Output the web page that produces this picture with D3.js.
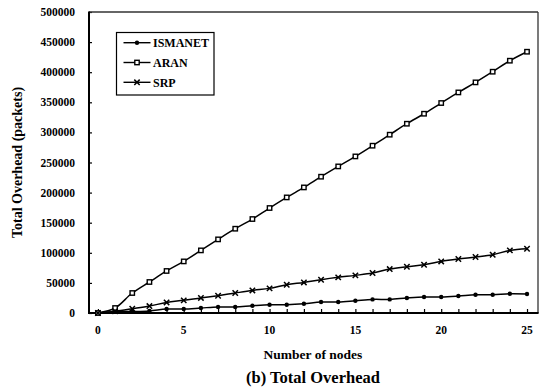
<!DOCTYPE html>
<html>
<head>
<meta charset="utf-8">
<script src="https://cdn.jsdelivr.net/npm/d3@7"></script>
<style>
  body { margin: 0; background: #fff; }
  text { font-family: "Liberation Serif", "Times New Roman", serif; font-weight: bold; }
</style>
</head>
<body>
<div id="chart"></div>
<script>
const nodes = d3.range(0, 26)
const ismanet = [0, 2000, 2500, 3500, 6600, 6600, 8300, 10000, 10000, 12100, 13800, 13800, 15400, 18300,
  18300, 20400, 22600, 22600, 24900, 26600, 26600, 28200, 30400, 30400, 32000, 31600]
const aran = [0, 8300, 33200, 51500, 69800, 85700, 104000, 122300, 140000, 156100, 174400, 192000, 208600,
  226400, 243500, 260100, 277900, 296200, 314400, 331000, 348800, 366400, 383100, 400800, 419100, 434000]
const srp = [0, 3000, 7100, 11500, 17600, 21000, 25000, 28700, 33200, 37500, 40900, 47000, 50800, 55300,
  59200, 62500, 66400, 73000, 76900, 80200, 85700, 89700, 93000, 96800, 104000, 106800]
const yTicks = d3.range(0, 500001, 50000)
const xLabels = [0, 5, 10, 15, 20, 25]
const seriesNames = ["ISMANET", "ARAN", "SRP"]

const width = 541, height = 392
const plotLeft = 89, plotRight = 538, plotTop = 12, plotBottom = 313

const svg = d3.select("#chart").append("svg")
  .attr("width", width)
  .attr("height", height)

const x = d3.scaleLinear().domain([-0.52, 25.64]).range([plotLeft, plotRight])
const y = d3.scaleLinear().domain([0, 500000]).range([plotBottom, plotTop])

// ticks inside the frame
svg.append("g")
  .attr("transform", "translate(0," + plotBottom + ")")
  .call(d3.axisTop(x).tickValues(nodes).tickSize(4).tickFormat(""))
  .call(g => g.select(".domain").remove())
  .selectAll("line").attr("stroke-width", 1.2)

svg.append("g")
  .attr("transform", "translate(" + plotLeft + ",0)")
  .call(d3.axisRight(y).tickValues(yTicks).tickSize(3).tickFormat(""))
  .call(g => g.select(".domain").remove())
  .selectAll("line").attr("stroke-width", 1.2)

// tick labels
svg.append("g").selectAll("text")
  .data(yTicks)
  .enter().append("text")
  .attr("x", 75)
  .attr("y", d => y(d))
  .attr("dy", "0.35em")
  .attr("text-anchor", "end")
  .attr("font-size", 11.5)
  .text(d => d)

svg.append("g").selectAll("text")
  .data(xLabels)
  .enter().append("text")
  .attr("x", d => x(d))
  .attr("y", 334)
  .attr("text-anchor", "middle")
  .attr("font-size", 11.5)
  .text(d => d)

// frame
svg.append("line").attr("x1", plotLeft).attr("x2", plotRight).attr("y1", plotTop).attr("y2", plotTop)
  .attr("stroke", "#333").attr("stroke-width", 1.3)
svg.append("line").attr("x1", plotRight).attr("x2", plotRight).attr("y1", plotTop).attr("y2", plotBottom)
  .attr("stroke", "#333").attr("stroke-width", 1.3)
svg.append("line").attr("x1", plotLeft).attr("x2", plotLeft).attr("y1", plotTop - 0.6).attr("y2", plotBottom + 1)
  .attr("stroke", "#000").attr("stroke-width", 2)
svg.append("line").attr("x1", plotLeft - 1).attr("x2", plotRight + 0.6).attr("y1", plotBottom).attr("y2", plotBottom)
  .attr("stroke", "#000").attr("stroke-width", 2)

const line = d3.line()
  .x((d, i) => x(nodes[i]))
  .y(d => y(d))
  .curve(d3.curveCatmullRom.alpha(0.5))

const marks = {
  ISMANET: (g, cx, cy) => g.append("circle").attr("cx", cx).attr("cy", cy).attr("r", 2.2).attr("fill", "#000"),
  ARAN: (g, cx, cy) => g.append("rect").attr("x", cx - 2.2).attr("y", cy - 2.2).attr("width", 4.4).attr("height", 4.4)
    .attr("fill", "#fff").attr("stroke", "#000").attr("stroke-width", 1.4),
  SRP: (g, cx, cy) => g.append("path")
    .attr("d", `M${cx - 2.7},${cy - 2.7}L${cx + 2.7},${cy + 2.7}M${cx - 2.7},${cy + 2.7}L${cx + 2.7},${cy - 2.7}`)
    .attr("stroke", "#000").attr("stroke-width", 1.5)
}

const seriesData = [ismanet, aran, srp]
seriesData.forEach((vals, k) => {
  svg.append("path")
    .datum(vals)
    .attr("fill", "none")
    .attr("stroke", "#000")
    .attr("stroke-width", 1.5)
    .attr("d", line)
})
seriesData.forEach((vals, k) => {
  const g = svg.append("g")
  vals.forEach((v, i) => marks[seriesNames[k]](g, x(nodes[i]), y(v)))
})

// legend
const lg = svg.append("g")
lg.append("rect").attr("x", 116.5).attr("y", 32.5).attr("width", 97.5).attr("height", 62.5)
  .attr("fill", "#fff").attr("stroke", "#000").attr("stroke-width", 1.2)
seriesNames.forEach((name, i) => {
  const ly = 42.7 + i * 19.8
  lg.append("line").attr("x1", 123.5).attr("x2", 150.5).attr("y1", ly).attr("y2", ly)
    .attr("stroke", "#000").attr("stroke-width", 1.4)
  marks[name](lg, 137, ly)
  lg.append("text").attr("x", 153).attr("y", ly).attr("dy", "0.35em")
    .attr("font-size", 12).text(name)
})

// titles
svg.append("text")
  .attr("transform", "translate(22," + ((plotTop + plotBottom) / 2) + ") rotate(-90)")
  .attr("text-anchor", "middle")
  .attr("font-size", 14)
  .text("Total Overhead (packets)")

svg.append("text")
  .attr("x", 313).attr("y", 359)
  .attr("text-anchor", "middle")
  .attr("font-size", 13.5)
  .text("Number of nodes")

svg.append("text")
  .attr("x", 313).attr("y", 383)
  .attr("text-anchor", "middle")
  .attr("font-size", 16.5)
  .text("(b) Total Overhead")
</script>
</body>
</html>
